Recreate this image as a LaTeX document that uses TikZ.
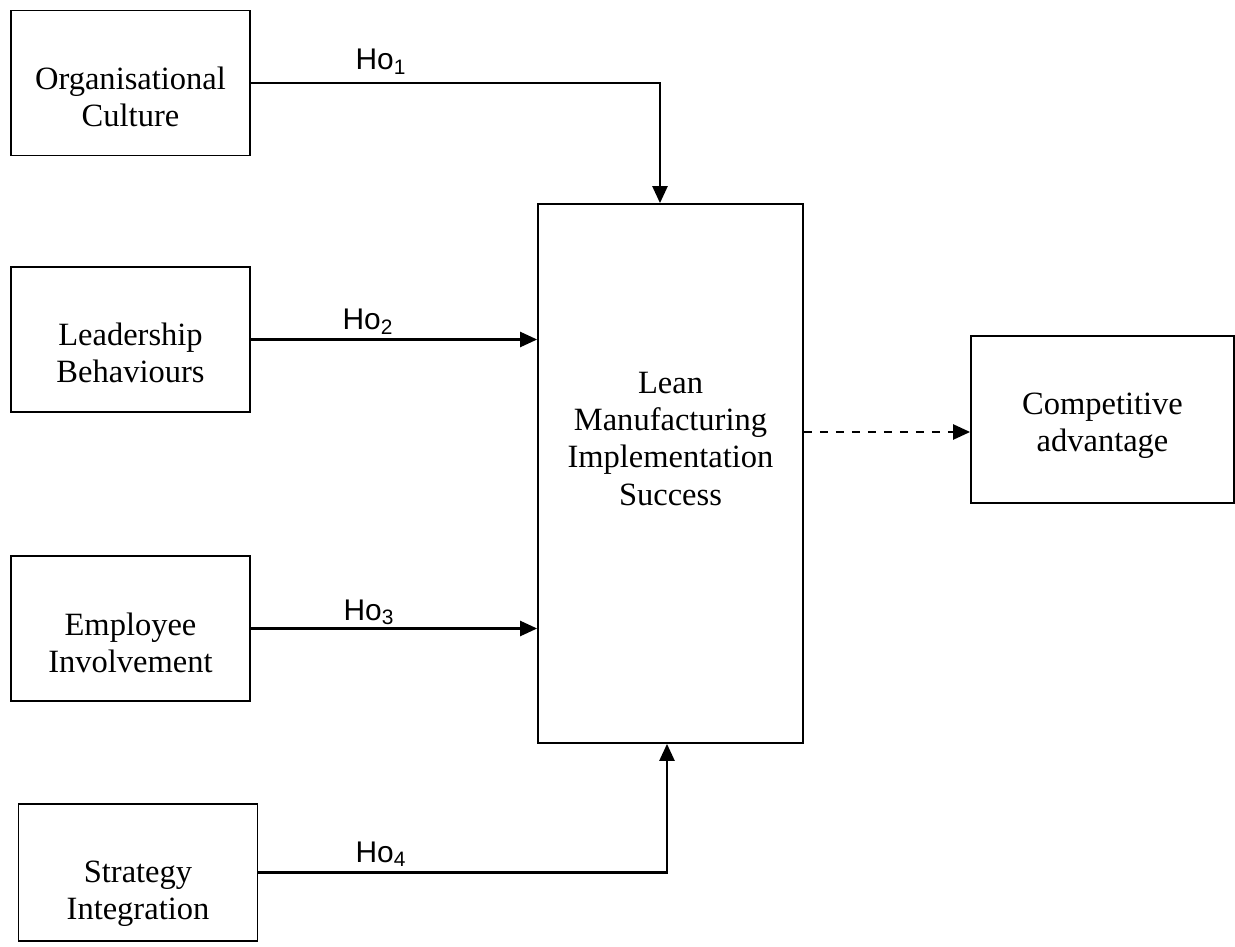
\documentclass[tikz,border=0pt]{standalone}
\usepackage{fontspec}
\setmainfont{Liberation Serif}
\setsansfont{Liberation Sans}
\usepackage{tikz}
\usetikzlibrary{calc,arrows.meta,positioning}

\begin{document}
\begin{tikzpicture}[
  line cap=butt,
  line join=miter,
  >={Triangle[length=0.34cm,width=0.3cm]},
  factor/.style={draw=black,line width=1pt,minimum width=4.78cm,minimum height=2.9cm,inner sep=0pt},
  boxtext/.style={align=center,inner sep=0pt,text depth=0pt,font=\fontsize{18.5}{21.3}\selectfont},
  hypothesis/.style={anchor=base,inner sep=0pt,font=\sffamily\fontsize{17}{20}\selectfont},
  link/.style={black,line width=1.4pt,->}
]
\path[use as bounding box] (0,0) rectangle (24.7,-18.94);

% independent variables
\node[factor] (culture) at (2.61,-1.66) {};
\node[factor] (leader) at (2.61,-6.79) {};
\node[factor] (employee) at (2.61,-12.57) {};
\node[factor,minimum height=2.74cm] (strategy) at (2.76,-17.45) {};

\node[boxtext] (culturetext) at (2.61,-1.93) {Organisational\\Culture};
\node[boxtext] (leadertext) at (2.61,-7.05) {Leadership\\Behaviours};
\node[boxtext] (employeetext) at (2.61,-12.86) {Employee\\Involvement};
\node[boxtext] (strategytext) at (2.76,-17.80) {Strategy\\Integration};

% dependent variable and outcome
\node[factor,minimum width=5.3cm,minimum height=10.78cm] (lean) at (13.41,-9.47) {};
\node[boxtext] (leantext) at (13.41,-8.77)
  {Lean\\Manufacturing\\Implementation\\Success};

\node[factor,minimum width=5.26cm,minimum height=3.34cm] (comp) at (22.05,-8.39) {};
\node[boxtext] (comptext) at (22.05,-8.45) {Competitive\\advantage};

% hypotheses
\draw[link] (culture.east) -| ([xshift=-0.21cm]lean.north);
\draw[link] (leader.east) -- (leader.east -| lean.west);
\draw[link] (employee.east) -- (employee.east -| lean.west);
\draw[link] (strategy.east) -| ([xshift=-0.07cm]lean.south);

\node[hypothesis] (ho1) at (7.62,-1.40) {Ho\textsubscript{1}};
\node[hypothesis] (ho2) at (7.36,-6.60) {Ho\textsubscript{2}};
\node[hypothesis] (ho3) at (7.38,-12.40) {Ho\textsubscript{3}};
\node[hypothesis] (ho4) at (7.62,-17.24) {Ho\textsubscript{4}};

\coordinate (advline) at (0,-8.64);
\draw[link,dash pattern=on 0.16cm off 0.16cm] (lean.east |- advline) -- (comp.west |- advline);
\end{tikzpicture}
\end{document}
